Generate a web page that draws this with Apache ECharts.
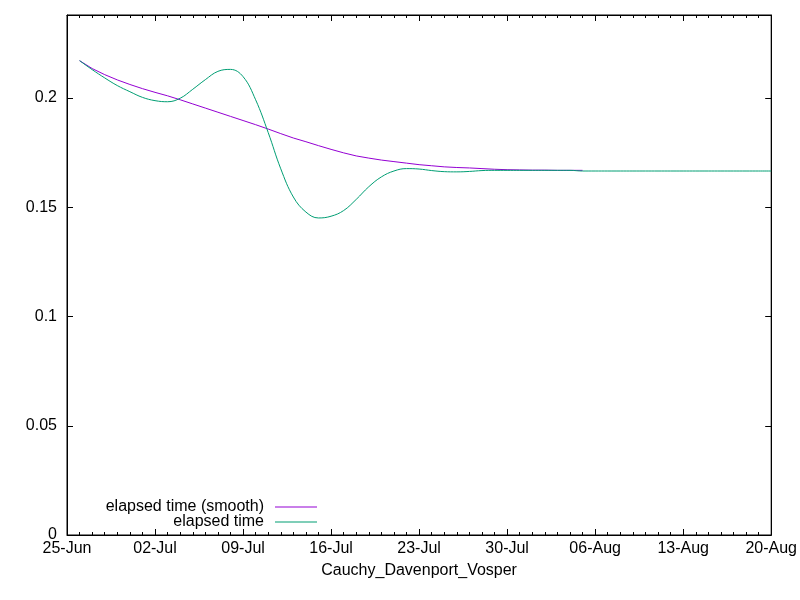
<!DOCTYPE html>
<html>
<head>
<meta charset="utf-8">
<script src="https://cdn.jsdelivr.net/npm/echarts@6/dist/echarts.min.js"></script>
<style>html,body{margin:0;padding:0;background:#fff;}#c{width:800px;height:600px;}</style>
</head>
<body>
<div id="c"></div>
<script>
const startDate = '2023-06-25';
const xTickLabels = ['25-Jun','02-Jul','09-Jul','16-Jul','23-Jul','30-Jul','06-Aug','13-Aug','20-Aug'];
const yTickLabels = ['0','0.05','0.1','0.15','0.2'];
const dates = [
 '2023-06-26','2023-06-27','2023-06-28','2023-06-29','2023-06-30',
 '2023-07-01','2023-07-02','2023-07-03','2023-07-04','2023-07-05','2023-07-06','2023-07-07','2023-07-08','2023-07-09','2023-07-10',
 '2023-07-11','2023-07-12','2023-07-13','2023-07-14','2023-07-15','2023-07-16','2023-07-17','2023-07-18','2023-07-19','2023-07-20',
 '2023-07-21','2023-07-22','2023-07-23','2023-07-24','2023-07-25','2023-07-26','2023-07-27','2023-07-28','2023-07-29','2023-07-30','2023-07-31',
 '2023-08-01','2023-08-02','2023-08-03','2023-08-04','2023-08-05','2023-08-06','2023-08-07','2023-08-08','2023-08-09','2023-08-10',
 '2023-08-11','2023-08-12','2023-08-13','2023-08-14','2023-08-15','2023-08-16','2023-08-17','2023-08-18','2023-08-19','2023-08-20'
];
const smoothName = 'elapsed time (smooth)';
const rawName = 'elapsed time';
const smoothValues = [
 0.2171,0.2135,0.2107,0.2083,0.2062,0.2043,0.2026,0.2010,0.1992,0.1973,
 0.1954,0.1935,0.1916,0.1897,0.1878,0.1858,0.1837,0.1817,0.1800,0.1782,
 0.1765,0.1749,0.1735,0.1725,0.1716,0.1709,0.1702,0.1695,0.1690,0.1685,
 0.1682,0.1680,0.1677,0.1674,0.1672,0.1671,0.1670,0.1670,0.1669,0.1669,0.1669
];
const rawValues = [
 0.2171,0.2130,0.2092,0.2057,0.2029,0.2003,0.1988,0.1983,0.1999,0.2040,
 0.2084,0.2122,0.2131,0.2098,0.1992,0.1842,0.1676,0.1547,0.1478,0.1451,
 0.1459,0.1485,0.1536,0.1594,0.1639,0.1666,0.1677,0.1675,0.1668,0.1663,
 0.1662,0.1664,0.1668,0.1669,0.1669,0.1669,0.1669,0.1669,0.1669,0.1669,
 0.1666,0.1666,0.1666,0.1666,0.1666,0.1666,0.1666,0.1666,0.1666,0.1666,
 0.1666,0.1666,0.1666,0.1666,0.1666,0.1666
];

const DAY = 86400000;
const t0 = Date.parse(startDate + 'T00:00:00Z');
function dayOf(d){ return Math.round((Date.parse(d + 'T00:00:00Z') - t0) / DAY); }
const smoothData = smoothValues.map((v,i)=>[dayOf(dates[i]), v]);
const rawData = rawValues.map((v,i)=>[dayOf(dates[i]), v]);

const FONT = 'Liberation Sans, Arial, sans-serif';
const fs = 16;
const xMax = 7 * (xTickLabels.length - 1);
const yMax = 0.238;

const chart = echarts.init(document.getElementById('c'), null, {renderer:'canvas'});
const lineAxis = {show:true, onZero:false, lineStyle:{color:'#000', width:1}};
const legendBase = {
  orient:'vertical', align:'right', padding:0, icon:'rect', itemWidth:42, itemHeight:1,
  textStyle:{fontFamily:FONT, fontSize:fs, color:'#000', padding:[0,6,0,0]},
  selectedMode:false
};
chart.setOption({
  animation:false,
  backgroundColor:'#fff',
  grid:{left:67, right:28, top:15, bottom:65, show:true, borderColor:'#000', borderWidth:1, backgroundColor:'transparent'},
  legend:[
    Object.assign({}, legendBase, {data:[smoothName], right:483, top:499}),
    Object.assign({}, legendBase, {data:[rawName], right:483, top:514})
  ],
  xAxis:[{
    type:'value', min:0, max:xMax, interval:7, position:'bottom',
    axisLine:lineAxis,
    axisTick:{inside:true, length:6, lineStyle:{color:'#000'}},
    minorTick:{show:true, splitNumber:7, length:3, lineStyle:{color:'#000'}},
    splitLine:{show:false},
    axisLabel:{margin:6, fontFamily:FONT, fontSize:fs, color:'#000',
      formatter:v=>xTickLabels[Math.round(v/7)] || ''},
    name:'Cauchy_Davenport_Vosper', nameLocation:'middle', nameGap:28,
    nameTextStyle:{fontFamily:FONT, fontSize:fs, color:'#000'}
  },{
    type:'value', min:0, max:xMax, interval:7, position:'top',
    axisLine:lineAxis,
    axisTick:{inside:true, length:6, lineStyle:{color:'#000'}},
    minorTick:{show:true, splitNumber:7, length:3, lineStyle:{color:'#000'}},
    splitLine:{show:false}, axisLabel:{show:false}
  }],
  yAxis:[{
    type:'value', min:0, max:yMax, interval:0.05, position:'left',
    axisLine:lineAxis,
    axisTick:{show:true, inside:true, length:6, lineStyle:{color:'#000'}},
    splitLine:{show:false},
    axisLabel:{margin:10, fontFamily:FONT, fontSize:fs, color:'#000', showMaxLabel:false,
      formatter:v=>{const i=Math.round(v/0.05); return Math.abs(v-i*0.05)<1e-9 ? (yTickLabels[i]||'') : '';}}
  },{
    type:'value', min:0, max:yMax, interval:0.05, position:'right',
    axisLine:lineAxis,
    axisTick:{show:true, inside:true, length:6, lineStyle:{color:'#000'}},
    splitLine:{show:false}, axisLabel:{show:false}
  }],
  series:[{
    name:smoothName, type:'line', data:smoothData, xAxisIndex:0, yAxisIndex:0,
    showSymbol:false, symbol:'none', lineStyle:{color:'#9400d3', width:1}, itemStyle:{color:'#9400d3'}
  },{
    name:rawName, type:'line', data:rawData, xAxisIndex:0, yAxisIndex:0, smooth:0.4,
    showSymbol:false, symbol:'none', lineStyle:{color:'#009e73', width:1}, itemStyle:{color:'#009e73'}
  }]
});
</script>
</body>
</html>
